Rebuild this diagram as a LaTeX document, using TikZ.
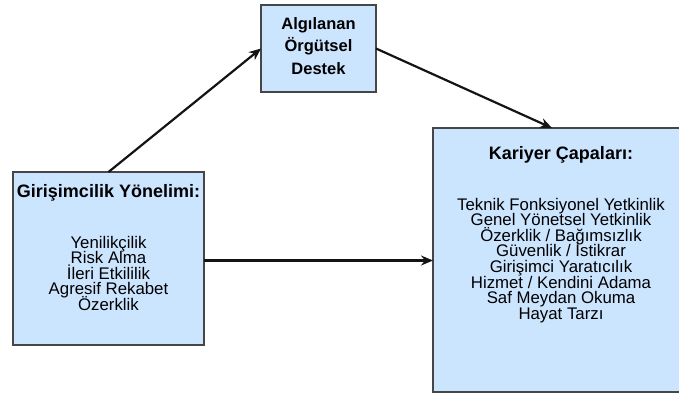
\documentclass[tikz,border=0pt]{standalone}
\usepackage{fontspec}
\setmainfont{Liberation Sans}
\usepackage{xcolor}
\usetikzlibrary{arrows.meta}

\definecolor{boxfill}{RGB}{204,229,255}
\definecolor{boxline}{RGB}{70,70,70}
\definecolor{arrowline}{RGB}{20,20,20}

\tikzset{
  box/.style={draw=boxline, fill=boxfill, line width=1.2pt, inner sep=0pt, outer sep=0pt},
  link/.style={-{Stealth[length=12pt,width=10pt]}, line width=2.2pt, draw=arrowline},
}

% title line and list lines of a box
\newcommand{\boxtitle}[2]{\fontsize{18}{18}\selectfont\bfseries\rule{0pt}{#1}#2\par}
\newcommand{\boxlist}{\fontsize{16.8}{15.6}\selectfont\mdseries}

\begin{document}
\begin{tikzpicture}[x=1pt, y=-1pt]
    % Page area (679 x 399, y runs downwards)
    \useasboundingbox (0,0) rectangle (679,399);

    % Left box
    \node[box, minimum width=191pt, minimum height=173pt] (gy) at (108.5,258.5) {%
      \parbox[c][173pt][t]{191pt}{\centering\lineskiplimit=-100pt
        \boxtitle{25.5pt}{Girişimcilik Yönelimi:}
        \boxlist\vspace{35pt}
        Yenilikçilik\\
        Risk Alma\\
        İleri Etkililik\\
        Agresif Rekabet\\
        Özerklik\par}};

    % Top box
    \node[box, minimum width=115pt, minimum height=87pt] (ao) at (318.5,48.5) {%
      \parbox[c][87pt][t]{115pt}{\centering\lineskiplimit=-100pt
        \fontsize{16.5}{22.5}\selectfont\bfseries\rule{0pt}{24pt}Algılanan\\
        Örgütsel\\
        Destek\par}};

    % Right box (runs past the right edge)
    \node[box, minimum width=256pt, minimum height=264pt] (kc) at (561,260) {%
      \parbox[c][264pt][t]{256pt}{\centering\lineskiplimit=-100pt
        \boxtitle{31.5pt}{Kariyer Çapaları:}
        \boxlist\vspace{35pt}
        Teknik Fonksiyonel Yetkinlik\\
        Genel Yönetsel Yetkinlik\\
        Özerklik / Bağımsızlık\\
        Güvenlik / İstikrar\\
        Girişimci Yaratıcılık\\
        Hizmet / Kendini Adama\\
        Saf Meydan Okuma\\
        Hayat Tarzı\par}};

    % Arrows
    \draw[link] (gy.north) -- (ao.west);
    \draw[link] (ao.east) -- ([xshift=-9pt]kc.north);
    \draw[link] ([yshift=-2pt]gy.east) -- ([yshift=-2pt]gy.east -| kc.west);
\end{tikzpicture}
\end{document}
